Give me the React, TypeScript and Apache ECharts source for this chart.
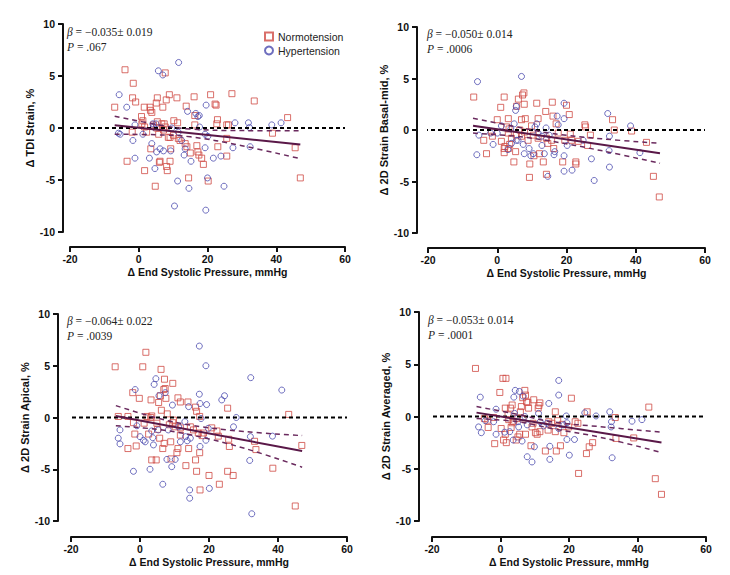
import React, { useEffect, useRef } from "react";
import * as echarts from "echarts";

// ---------- axis ticks ----------
const X_MIN = -20;
const X_MAX = 60;
const X_STEP = 20;
const Y_MIN = -10;
const Y_MAX = 10;
const Y_STEP = 5;

const X_NAME = "Δ End Systolic Pressure, mmHg";
const Y_NAMES = [
  "Δ TDI Strain, %",
  "Δ 2D Strain Basal-mid, %",
  "Δ 2D Strain Apical, %",
  "Δ 2D Strain Averaged, %",
];
const BETAS = ["−0.035± 0.019", "−0.050± 0.014", "−0.064± 0.022", "−0.053± 0.014"];
const PVALS = [".067", ".0006", ".0039", ".0001"];
const SERIES_NAMES = ["Normotension", "Hypertension"];

// ---------- panel 1: TDI strain ----------
const p1Normo = [[-7,2.0],[-4,5.6],[-1.6,4.3],[-1.8,2.9],[-0.9,2.5],[-1.9,-0.4],[-3.4,-3.2],[0.8,1.1],[1.2,0.7],[1.6,2.0],[1.7,0.1],[2.3,-0.4],[1.7,-4.1],[3.3,2.0],[3.4,1.7],[3.8,1.5],[3.5,-2.0],[4.8,-5.6],[5.1,2.4],[5.4,2.9],[5.4,0.6],[5.8,-0.6],[6.0,-3.3],[6.2,-3.2],[7.0,2.0],[7.4,0.4],[7.7,5.3],[8.0,2.7],[7.7,0.1],[8.1,-3.7],[8.3,-4.1],[8.9,3.2],[9.1,-0.9],[9.3,-2.0],[9.1,-3.2],[10.2,0.7],[11.1,2.9],[11.3,0.5],[11.5,-1.0],[13.8,2.1],[14.0,-1.8],[14.5,-4.8],[15.0,-2.4],[16.1,3.0],[16.3,1.2],[16.3,0.3],[16.9,-1.7],[17.2,-2.3],[17.5,-2.6],[18.3,-2.9],[18.8,-3.5],[20.2,-5.1],[20.9,3.2],[22.2,2.3],[22.5,2.2],[22.9,0.8],[22.7,0.4],[23.0,-1.8],[25.6,0.3],[26.1,0.3],[25.6,-1.0],[25.6,-2.7],[27.1,3.3],[33.6,2.6],[38.9,-0.5],[43.3,1.0],[45.5,-1.9],[47.0,-4.8],[0.9,0.4],[4.3,0.3],[5.2,0.0],[6.7,0.4],[7.2,-0.2],[8.6,-0.9],[10.1,-0.7],[12.0,-1.2],[13.5,-1.5]];
const p1Hyper = [[-5.7,3.2],[-5.9,-0.5],[-5.4,-0.6],[-3.5,2.0],[-1.7,-1.2],[-1.1,-2.9],[-1.1,0.3],[1.2,-0.6],[3.1,-2.9],[3.8,-1.5],[4.1,0.4],[4.7,-3.9],[5.2,-2.3],[5.7,5.5],[7.0,5.1],[7.2,-2.2],[6.2,-2.0],[5.0,0.4],[9.3,-2.2],[9.6,0],[10.4,-7.5],[11.3,-5.1],[11.6,6.3],[13.2,-2.6],[13.5,-2.0],[14.2,1.6],[14.6,-5.8],[15.2,-3.2],[16.6,1.4],[17.2,1.1],[17.6,1.2],[17.7,0.1],[19.3,-0.6],[19.6,2.2],[19.3,-1.9],[20.1,-0.8],[20.0,-4.8],[19.5,-7.9],[21.7,-2.9],[23.9,-2.7],[24.8,-5.6],[27.4,-1.9],[28.0,0.5],[31.9,0.5],[32.2,0.05],[32.4,-1.8],[38.7,0.3],[41.4,0.5],[12.5,-1.2],[11.5,-0.4],[4.3,0.1]];
const p1Fit = [[-7,0.27],[47,-1.59]];
const p1Upper = [[-7,1.14],[5,0.35],[15,-0.1],[30,-0.25],[47,-0.27]];
const p1Lower = [[-7,-0.6],[5,-0.65],[15,-0.85],[30,-1.7],[47,-2.95]];

// ---------- panel 2: 2D strain basal-mid ----------
const p2Normo = [[-6.8,3.2],[-3.9,-1.0],[-3.1,-2.3],[-1.7,-0.2],[-1.4,-0.6],[0,1.0],[1.0,2.2],[1.2,-1.1],[2.0,3.2],[2.0,-1.8],[2.0,-2.2],[2.7,0.3],[3.2,1.1],[3.4,0.1],[3.6,-1.4],[4.8,-3.1],[5.3,-2.1],[5.6,2.3],[6.1,3.0],[6.5,0],[7.0,1.0],[7.3,3.4],[7.7,3.6],[7.8,2.5],[7.9,-0.2],[8.1,1.1],[8.9,-1.0],[9.4,-3.3],[9.3,-4.6],[9.9,0.4],[10.6,-2.5],[11.4,2.6],[11.8,1.1],[12.2,-2.3],[13.3,-3.1],[14.0,1.8],[14.2,-4.3],[14.6,-1.3],[15.9,2.7],[16.1,1.35],[16.3,-1.8],[17.0,0.6],[17.6,-0.3],[18.9,-3.1],[20.0,2.4],[20.8,1.5],[21.1,-0.4],[21.5,-1.0],[22.7,-3.1],[22.7,-3.3],[25.3,0.5],[25.5,0.3],[26.1,-1.5],[26.9,-0.5],[33.3,1.0],[33.8,0],[38.8,-0.1],[43.1,-1.2],[45.1,-4.5],[46.8,-6.5],[3.2,-0.3],[4.1,-0.8],[5.5,-0.5],[7.0,-0.6],[10.4,-0.5],[11.8,-0.8],[14.2,-0.8],[15.7,-1.0],[19.5,-1.0],[23.4,-1.1],[2.2,-1.6],[3.2,-1.8]];
const p2Hyper = [[-5.7,4.7],[-5.9,-2.4],[-5.3,-0.5],[-1.9,-0.3],[-1.2,-1.4],[0,-0.3],[1.2,0.4],[3.1,-1.9],[3.9,0.1],[5.3,1.9],[5.5,2.3],[5.5,-1.0],[4.9,0.6],[7.0,5.2],[7.8,-2.3],[7.5,-1.4],[9.2,-1.8],[9.7,-2.5],[10.4,-2.3],[10.9,0.3],[11.4,0.6],[12.9,-1.5],[13.6,-2.3],[14.1,0.2],[14.6,-4.5],[15.0,-0.5],[16.4,-2.4],[16.6,-2.1],[17.3,1.35],[17.6,0.5],[19.3,2.6],[19.3,1.1],[19.3,-2.5],[19.3,-4.0],[20.2,-1.5],[21.6,-3.9],[24.8,-1.0],[27.2,-2.8],[28.0,-4.9],[31.9,1.6],[32.4,-0.6],[32.3,-2.0],[32.4,-3.6],[38.5,0.4],[41.2,-2.2],[4.1,-1.3],[6.0,-1.0],[11.8,-0.3],[12.9,-0.6]];
const p2Fit = [[-7,0.42],[47,-2.26]];
const p2Upper = [[-7,1.13],[5,0.35],[15,-0.3],[30,-0.85],[47,-1.29]];
const p2Lower = [[-7,-0.3],[5,-0.6],[15,-1.05],[30,-2.0],[47,-3.23]];

// ---------- panel 3: 2D strain apical ----------
const p3Normo = [[-7.2,4.9],[-6.3,0.1],[-3.5,0.1],[-3.5,-3.0],[-2.1,2.4],[-1.9,-0.5],[-1.5,-1.6],[-1.1,-2.75],[-0.2,1.85],[0.8,4.9],[1.2,-0.55],[1.7,6.3],[2.0,0.1],[2.5,-1.6],[3.1,0],[3.2,1.7],[3.4,0.15],[3.4,-4.1],[4.7,-4.1],[5.1,-1.15],[5.4,1.45],[5.7,-2.0],[5.9,2.1],[6.1,4.65],[6.2,0.7],[6.6,-3.0],[6.9,2.7],[7.1,3.7],[7.3,2.8],[7.0,-2.5],[7.5,1.85],[7.9,0.35],[8.5,-0.7],[8.9,-2.35],[9.0,-4.0],[9.5,3.3],[9.5,-0.5],[10.2,-0.9],[10.7,-3.4],[11.0,1.9],[11.0,-3.0],[11.7,1.5],[11.7,-1.7],[13.3,-4.65],[13.9,1.5],[14.1,-3.0],[14.6,-0.9],[16.1,1.0],[16.4,0.6],[16.1,-4.1],[16.4,-5.2],[16.9,-1.5],[17.3,0.1],[17.3,-3.4],[17.4,-7.0],[18.0,-1.75],[20.0,-5.6],[20.8,-1.0],[22.3,-1.3],[22.7,-1.8],[23.0,-6.45],[25.4,0.9],[25.7,-2.1],[25.9,-2.8],[25.4,-5.2],[27.0,-5.6],[33.2,-2.3],[33.6,-3.1],[38.5,-4.9],[43.1,0.3],[45.0,-8.55],[46.9,-2.7],[9.7,-0.25],[11.7,-1.0],[15.5,-1.2],[18.4,-1.5],[4.9,-0.55]];
const p3Hyper = [[-6.3,-2.0],[-5.8,-2.55],[-5.8,-1.2],[-1.9,-5.2],[-1.4,2.7],[-0.9,-0.8],[0,-1.85],[1.0,-2.2],[1.5,-2.35],[2.9,-5.0],[3.4,-1.3],[3.7,-1.95],[3.9,-2.65],[4.1,3.2],[4.6,3.75],[5.3,-1.2],[5.5,2.1],[6.6,-6.45],[7.3,2.4],[7.8,-4.05],[8.2,-1.2],[9.2,-4.75],[9.4,1.2],[10.2,-4.05],[11.2,-0.9],[11.7,-2.35],[13.0,-0.4],[13.2,-1.85],[13.7,-2.25],[14.1,1.05],[14.4,-7.0],[14.4,-7.8],[14.6,-2.0],[17.2,6.9],[17.2,2.25],[17.4,1.35],[17.4,-2.8],[17.7,-0.1],[19.1,5.0],[19.3,1.25],[19.1,-2.2],[19.8,-1.05],[20.1,-6.85],[23.7,1.7],[24.5,2.1],[27.1,-0.9],[27.9,0],[31.8,-4.15],[32.0,-1.85],[32.1,3.85],[32.4,-9.3],[38.4,-1.8],[41.1,2.65]];
const p3Fit = [[-7,0.15],[47,-3.24]];
const p3Upper = [[-7,1.15],[5,-0.05],[15,-0.75],[30,-1.35],[47,-1.75]];
const p3Lower = [[-7,-0.8],[5,-1.15],[15,-1.7],[30,-2.95],[47,-4.8]];

// ---------- panel 4: 2D strain averaged ----------
const p4Normo = [[-7.3,4.6],[-4.7,-0.2],[-3.7,-0.35],[-3.6,-1.05],[-2.0,-0.1],[-1.7,-2.6],[-0.2,2.3],[0.2,-1.15],[0.7,3.65],[0.9,-2.25],[1.6,3.65],[1.4,0.8],[1.4,-1.7],[1.7,-2.5],[2.2,0.15],[2.4,-0.3],[2.9,0.8],[3.1,-1.05],[3.4,1.1],[3.4,-0.6],[3.8,-0.45],[4.6,-2.25],[5.1,-1.95],[5.6,-1.7],[5.8,0.45],[6.1,0.95],[6.5,1.8],[6.6,-0.25],[7.1,2.5],[7.3,2.05],[7.3,-1.7],[7.6,1.4],[8.0,1.35],[8.2,0.8],[8.9,-2.8],[9.5,-0.65],[9.7,1.6],[10.2,-1.55],[10.7,-1.7],[11.0,0.8],[11.2,1.05],[11.5,1.3],[11.5,-1.45],[13.1,-3.3],[13.9,-1.3],[14.1,-0.5],[16.0,0.45],[16.0,-1.45],[16.3,-3.3],[16.7,-0.4],[17.5,-2.8],[18.0,-0.75],[18.5,-1.55],[20.7,1.75],[21.8,-0.5],[22.6,-0.65],[22.8,-5.45],[25.3,0.45],[25.1,-3.55],[25.9,-2.9],[26.9,-2.5],[33.5,-0.1],[33.7,-2.1],[38.9,-2.05],[43.3,0.9],[45.2,-5.95],[47.0,-7.45],[4.8,-0.2],[9.2,-1.0],[15.0,-0.65],[19.9,-1.0]];
const p4Hyper = [[-5.9,1.85],[-6.4,-1.0],[-5.6,-1.55],[-4.4,-0.4],[-2.0,-0.5],[-1.3,0.7],[-1.3,-1.7],[1.2,-1.5],[2.7,-1.45],[3.7,-2.25],[4.3,2.5],[3.9,1.85],[4.1,0.3],[5.1,-0.5],[5.5,2.4],[6.3,-2.35],[6.6,1.95],[7.1,0],[7.8,-0.8],[7.8,-3.85],[9.2,-4.35],[9.9,-2.9],[11.1,0.3],[12.6,-0.9],[14.1,1.25],[14.4,-2.85],[14.4,-4.1],[17.0,3.45],[17.0,2.05],[17.0,-1.15],[18.5,-0.8],[19.2,0.05],[19.4,-0.6],[20.1,-3.7],[19.4,-2.2],[21.6,-2.2],[24.6,0.35],[27.9,0.05],[31.9,0.45],[32.4,-0.5],[32.3,-1.0],[32.6,-3.95],[38.4,-0.45],[41.3,-0.3],[13.6,-0.65],[11.6,-0.5],[5.3,-1.0]];
const p4Fit = [[-7,0.37],[47,-2.48]];
const p4Upper = [[-7,0.95],[5,0.2],[15,-0.5],[30,-1.0],[47,-1.5]];
const p4Lower = [[-7,-0.2],[5,-0.5],[15,-1.15],[30,-2.05],[47,-3.45]];

const PANELS = [
  { normo: p1Normo, hyper: p1Hyper, fit: p1Fit, upper: p1Upper, lower: p1Lower },
  { normo: p2Normo, hyper: p2Hyper, fit: p2Fit, upper: p2Upper, lower: p2Lower },
  { normo: p3Normo, hyper: p3Hyper, fit: p3Fit, upper: p3Upper, lower: p3Lower },
  { normo: p4Normo, hyper: p4Hyper, fit: p4Fit, upper: p4Upper, lower: p4Lower },
];

// ---------- layout (pixels) ----------
const LAYOUT = [
  { left: 70, top: 24, width: 275, height: 208, yOff: 7, xOff: 15, annX: 67, annY: 32 },
  { left: 428, top: 27, width: 277, height: 206, yOff: 11, xOff: 15, annX: 427, annY: 34 },
  { left: 71, top: 314, width: 276, height: 207, yOff: 13, xOff: 16, annX: 67, annY: 321 },
  { left: 432, top: 312, width: 274, height: 209, yOff: 13, xOff: 16, annX: 428, annY: 320 },
];

const RED = "#d04b45";
const BLUE = "#4a4aae";
const FIT = "#5a1848";
const BAND = "#6a2a5e";
const SANS = "'Liberation Sans', Arial, sans-serif";
const SERIF = "'Liberation Serif', 'Times New Roman', serif";

export default function App() {
  const ref = useRef<HTMLDivElement>(null);

  useEffect(() => {
    if (!ref.current) return;
    const chart = echarts.init(ref.current, undefined, { renderer: "svg" });

    const grid: any[] = [];
    const xAxis: any[] = [];
    const yAxis: any[] = [];
    const series: any[] = [];
    const graphic: any[] = [];

    PANELS.forEach((p, i) => {
      const L = LAYOUT[i];
      grid.push({ left: L.left, top: L.top, width: L.width, height: L.height, containLabel: false });
      xAxis.push({
        type: "value",
        gridIndex: i,
        min: X_MIN,
        max: X_MAX,
        interval: X_STEP,
        offset: L.xOff,
        name: X_NAME,
        nameLocation: "middle",
        nameGap: 19,
        nameTextStyle: { fontFamily: SANS, fontWeight: "bold", fontSize: 10.5, color: "#111" },
        axisLine: { show: true, onZero: false, lineStyle: { color: "#111", width: 2 } },
        axisTick: { show: true, length: 5, lineStyle: { color: "#111", width: 2 } },
        axisLabel: { fontFamily: SANS, fontWeight: "bold", fontSize: 10.5, color: "#111", margin: 6 },
        splitLine: { show: false },
      });
      yAxis.push({
        type: "value",
        gridIndex: i,
        min: Y_MIN,
        max: Y_MAX,
        interval: Y_STEP,
        offset: L.yOff,
        name: Y_NAMES[i],
        nameLocation: "middle",
        nameGap: 27,
        nameRotate: 90,
        nameTextStyle: { fontFamily: SANS, fontWeight: "bold", fontSize: 11, color: "#111" },
        axisLine: { show: true, onZero: false, lineStyle: { color: "#111", width: 2 } },
        axisTick: { show: true, length: 5, lineStyle: { color: "#111", width: 2 } },
        axisLabel: { fontFamily: SANS, fontWeight: "bold", fontSize: 10.5, color: "#111", margin: 8 },
        splitLine: { show: false },
      });

      const zeroStart = X_MIN - (L.yOff * (X_MAX - X_MIN)) / L.width;

      series.push({
        type: "scatter",
        name: SERIES_NAMES[0],
        xAxisIndex: i,
        yAxisIndex: i,
        data: p.normo,
        symbol: "rect",
        symbolSize: 6,
        itemStyle: { color: "rgba(255,255,255,0)", borderColor: RED, borderWidth: 1 },
        z: 2,
      });
      series.push({
        type: "scatter",
        name: SERIES_NAMES[1],
        xAxisIndex: i,
        yAxisIndex: i,
        data: p.hyper,
        symbol: "circle",
        symbolSize: 6,
        itemStyle: { color: "rgba(255,255,255,0)", borderColor: BLUE, borderWidth: 1 },
        z: 2,
      });
      series.push({
        type: "line",
        xAxisIndex: i,
        yAxisIndex: i,
        data: [[zeroStart, 0], [X_MAX, 0]],
        clip: false,
        symbol: "none",
        lineStyle: { color: "#000", width: 2, type: [4, 3] },
        z: 4,
        silent: true,
      });
      series.push({
        type: "line",
        xAxisIndex: i,
        yAxisIndex: i,
        data: p.fit,
        symbol: "none",
        lineStyle: { color: FIT, width: 2 },
        z: 5,
        silent: true,
      });
      [p.upper, p.lower].forEach((band) => {
        series.push({
          type: "line",
          xAxisIndex: i,
          yAxisIndex: i,
          data: band,
          smooth: 0.4,
          symbol: "none",
          lineStyle: { color: BAND, width: 1.5, type: [5, 4] },
          z: 5,
          silent: true,
        });
      });

      graphic.push({
        type: "text",
        x: L.annX,
        y: L.annY,
        style: {
          text: "{i|β} = " + BETAS[i],
          fontFamily: SERIF,
          fontSize: 11.5,
          fill: "#222",
          verticalAlign: "middle",
          rich: { i: { fontStyle: "italic", fontFamily: SERIF, fontSize: 11.5, fill: "#222" } },
        },
      });
      graphic.push({
        type: "text",
        x: L.annX,
        y: L.annY + 15,
        style: {
          text: "{i|P} = " + PVALS[i],
          fontFamily: SERIF,
          fontSize: 11.5,
          fill: "#222",
          verticalAlign: "middle",
          rich: { i: { fontStyle: "italic", fontFamily: SERIF, fontSize: 11.5, fill: "#222" } },
        },
      });
    });

    chart.setOption({
      animation: false,
      backgroundColor: "#fff",
      grid,
      xAxis,
      yAxis,
      series,
      graphic,
      legend: {
        data: SERIES_NAMES,
        orient: "vertical",
        left: 259,
        top: 26,
        itemWidth: 8,
        itemHeight: 8,
        itemGap: 3,
        selectedMode: false,
        textStyle: { fontFamily: SANS, fontSize: 10.5, color: "#222" },
      },
    });

    return () => chart.dispose();
  }, []);

  return (
    <div
      ref={ref}
      style={{ position: "absolute", left: 0, top: 0, width: 730, height: 575, background: "#fff" }}
    />
  );
}
